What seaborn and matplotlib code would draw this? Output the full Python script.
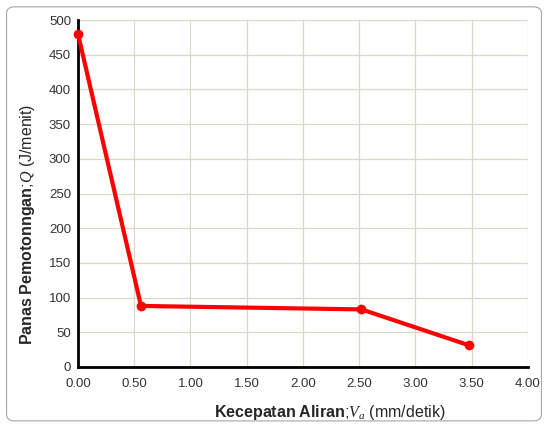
import matplotlib
matplotlib.use("Agg")
import matplotlib.pyplot as plt
import seaborn as sns
import pandas as pd
from matplotlib.patches import FancyBboxPatch

# data
kecepatan = [0.00, 0.56, 2.52, 3.48]
panas = [480, 88, 83, 31]

x_ticks = [0.0, 0.5, 1.0, 1.5, 2.0, 2.5, 3.0, 3.5, 4.0]
y_ticks = [0, 50, 100, 150, 200, 250, 300, 350, 400, 450, 500]

sns.set_style("white")
plt.rcParams['font.family'] = ['Liberation Sans', 'DejaVu Sans']
plt.rcParams['mathtext.fontset'] = 'custom'
plt.rcParams['mathtext.rm'] = 'Liberation Sans'
plt.rcParams['mathtext.bf'] = 'Liberation Sans:bold'
plt.rcParams['mathtext.it'] = 'Liberation Serif:italic'

df = pd.DataFrame({'kecepatan': kecepatan, 'panas': panas})

fig = plt.figure(figsize=(5.48, 4.26), dpi=100)
ax = fig.add_axes([0.1423, 0.1385, 0.8212, 0.8145])

# rounded outer frame
frame = FancyBboxPatch((0.012, 0.012), 0.976, 0.972,
                       boxstyle="round,pad=0,rounding_size=0.015",
                       transform=fig.transFigure, fill=False,
                       edgecolor='#a6a6a6', linewidth=0.8, zorder=0)
fig.patches.append(frame)

sns.lineplot(data=df, x='kecepatan', y='panas', ax=ax, color='#ff0000',
             linewidth=3, marker='o', markersize=7, markeredgewidth=0,
             clip_on=False, zorder=5)

ax.set_xlim(0, 4)
ax.set_ylim(0, 500)
ax.set_xticks(x_ticks)
ax.set_xticklabels([f"{t:.2f}" for t in x_ticks])
ax.set_yticks(y_ticks)
ax.tick_params(axis='both', labelsize=9.5, colors='#333333', length=0, pad=5)
ax.tick_params(axis='x', pad=8)

ax.grid(True, color='#ddd8c4', linewidth=0.9)
for side in ['top', 'right']:
    ax.spines[side].set_visible(False)
for side in ['left', 'bottom']:
    ax.spines[side].set_color('black')
    ax.spines[side].set_linewidth(2)

ax.set_xlabel(r"$\mathbf{Kecepatan\ Aliran}$;$\mathit{V_a}$ (mm/detik)",
              fontsize=11.5)
ax.set_ylabel(r"$\mathbf{Panas\ Pemotonngan}$;$\mathit{Q}$ (J/menit)",
              fontsize=11.5)
ax.xaxis.set_label_coords(0.56, -0.105)
ax.yaxis.set_label_coords(-0.09, 0.41)

fig.savefig("out.png", dpi=100)
